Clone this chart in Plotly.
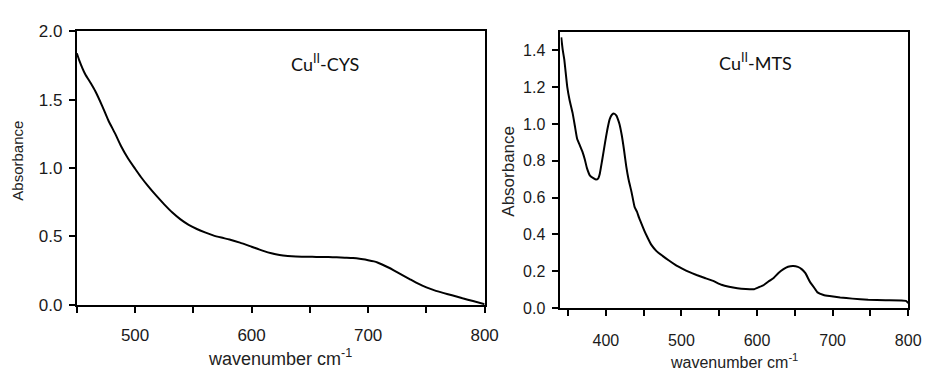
import plotly.graph_objects as go

# Cu(II)-CYS spectrum
cys_x = [450, 452, 457, 462, 466, 472, 477, 483, 488, 494, 500, 505, 511, 518, 525, 532, 539, 546, 553, 560, 567, 574,
         581, 590, 600, 605, 610, 617, 624, 631, 638, 645, 652, 659, 666, 673, 680, 687, 694, 700, 705, 708, 712, 717,
         722, 729, 736, 743, 750, 757, 765, 772, 781, 790, 800]
cys_y = [1.84, 1.79, 1.69, 1.62, 1.56, 1.45, 1.35, 1.25, 1.16, 1.07, 0.995, 0.935, 0.87, 0.80, 0.735, 0.675, 0.625, 0.585, 0.555, 0.53, 0.508, 0.492,
         0.478, 0.455, 0.425, 0.41, 0.395, 0.377, 0.364, 0.357, 0.353, 0.352, 0.351, 0.350, 0.350, 0.348, 0.345, 0.342, 0.335, 0.327, 0.318, 0.31, 0.295, 0.275,
         0.253, 0.22, 0.187, 0.155, 0.128, 0.106, 0.086, 0.07, 0.048, 0.028, 0.005]

# Cu(II)-MTS spectrum
mts_x = [341, 343, 345, 349, 352, 356, 359, 362, 366, 369, 372, 375, 379, 384, 387, 390, 392, 395, 399, 402, 405, 408, 411,
         414, 416, 418, 421, 424, 427, 430, 434, 438, 441, 444, 448, 451, 455, 460, 467, 475, 483, 492, 501, 510, 520, 531,
         542, 553, 563, 574, 585, 596, 603, 609, 615, 622, 628, 635, 641, 648, 654, 659, 664, 670, 675, 680, 688, 696, 710,
         726, 747, 770, 797, 800]
mts_y = [1.47, 1.40, 1.35, 1.20, 1.13, 1.06, 0.99, 0.92, 0.88, 0.85, 0.81, 0.76, 0.72, 0.705, 0.698, 0.705, 0.73, 0.80, 0.90, 0.97, 1.025, 1.05, 1.056,
         1.045, 1.025, 1.00, 0.94, 0.86, 0.77, 0.70, 0.63, 0.55, 0.525, 0.49, 0.45, 0.42, 0.385, 0.345, 0.31, 0.284, 0.26, 0.235, 0.215, 0.197, 0.18, 0.164,
         0.148, 0.127, 0.116, 0.108, 0.104, 0.103, 0.115, 0.126, 0.145, 0.164, 0.19, 0.212, 0.225, 0.229, 0.224, 0.212, 0.19, 0.143, 0.115, 0.086, 0.072, 0.066, 0.058,
         0.052, 0.046, 0.043, 0.040, 0.028]

cys_ticks_x = [500, 600, 700, 800]
cys_ticks_y = [0.0, 0.5, 1.0, 1.5, 2.0]
mts_ticks_x = [400, 500, 600, 700, 800]
mts_ticks_y = [0.0, 0.2, 0.4, 0.6, 0.8, 1.0, 1.2, 1.4]

W, H = 936, 379
FAM = "Liberation Sans, Arial, sans-serif"

fig = go.Figure()
fig.add_trace(go.Scatter(x=cys_x, y=cys_y, mode="lines", line=dict(color="black", width=2, shape="spline", smoothing=0.6),
                         xaxis="x", yaxis="y", showlegend=False, hoverinfo="skip"))
fig.add_trace(go.Scatter(x=mts_x, y=mts_y, mode="lines", line=dict(color="black", width=2, shape="spline", smoothing=0.4),
                         xaxis="x2", yaxis="y2", showlegend=False, hoverinfo="skip"))


def axis_style(size):
    return dict(showline=True, linecolor="black", linewidth=2, mirror=True, showgrid=False, zeroline=False,
                ticks="outside", ticklen=6, tickwidth=1.5, tickcolor="black",
                tickfont=dict(family=FAM, size=size, color="#1a1a1a"))


minor_style = dict(ticks="outside", ticklen=6, tickwidth=1.5, tickcolor="black")

fig.update_layout(
    width=W, height=H, margin=dict(l=0, r=0, t=0, b=0),
    paper_bgcolor="white", plot_bgcolor="white",
    xaxis=dict(domain=[78 / W, 492 / W], range=[450, 800], tickvals=cys_ticks_x, anchor="y",
               minor=dict(tickvals=[450, 550, 650, 750], **minor_style),
               ticklabelstandoff=8, **axis_style(17)),
    yaxis=dict(domain=[1 - 311.5 / H, 1 - 23.5 / H], range=[0, 2.0], tickvals=cys_ticks_y, tickformat=".1f",
               anchor="x", ticklabelstandoff=3, **axis_style(17)),
    xaxis2=dict(domain=[569 / W, 922 / W], range=[340, 800], tickvals=mts_ticks_x, anchor="y2",
                minor=dict(tickvals=[350, 450, 550, 650, 750], **minor_style),
                ticklabelstandoff=11, **axis_style(16)),
    yaxis2=dict(domain=[1 - 315 / H, 1 - 24 / H], range=[0, 1.5], tickvals=mts_ticks_y, tickformat=".1f",
                anchor="x2", ticklabelstandoff=4, **axis_style(16)),
)

fig.add_annotation(text="Absorbance", textangle=-90, x=18 / W, y=1 - 160 / H, xref="paper", yref="paper",
                   showarrow=False, font=dict(family=FAM, size=15, color="#222"), xanchor="center", yanchor="middle")
fig.add_annotation(text="Absorbance", textangle=-90, x=516 / W, y=1 - 171 / H, xref="paper", yref="paper",
                   showarrow=False, font=dict(family=FAM, size=17, color="#222"), xanchor="center", yanchor="middle")
fig.add_annotation(text="wavenumber cm<sup>-1</sup>", x=284 / W, y=1 - 367 / H, xref="paper", yref="paper",
                   showarrow=False, font=dict(family=FAM, size=18, color="#222"), xanchor="center", yanchor="middle")
fig.add_annotation(text="wavenumber cm<sup>-1</sup>", x=745 / W, y=1 - 371 / H, xref="paper", yref="paper",
                   showarrow=False, font=dict(family=FAM, size=16, color="#222"), xanchor="center", yanchor="middle")

namefont = dict(family="Lato, Open Sans, sans-serif", size=18, color="#111")
fig.add_annotation(text="Cu<sup>II</sup>-CYS", x=330 / W, y=1 - 57 / H, xref="paper", yref="paper",
                   showarrow=False, font=namefont, xanchor="center", yanchor="middle")
fig.add_annotation(text="Cu<sup>II</sup>-MTS", x=767 / W, y=1 - 56 / H, xref="paper", yref="paper",
                   showarrow=False, font=namefont, xanchor="center", yanchor="middle")

fig.write_html("out.html")
